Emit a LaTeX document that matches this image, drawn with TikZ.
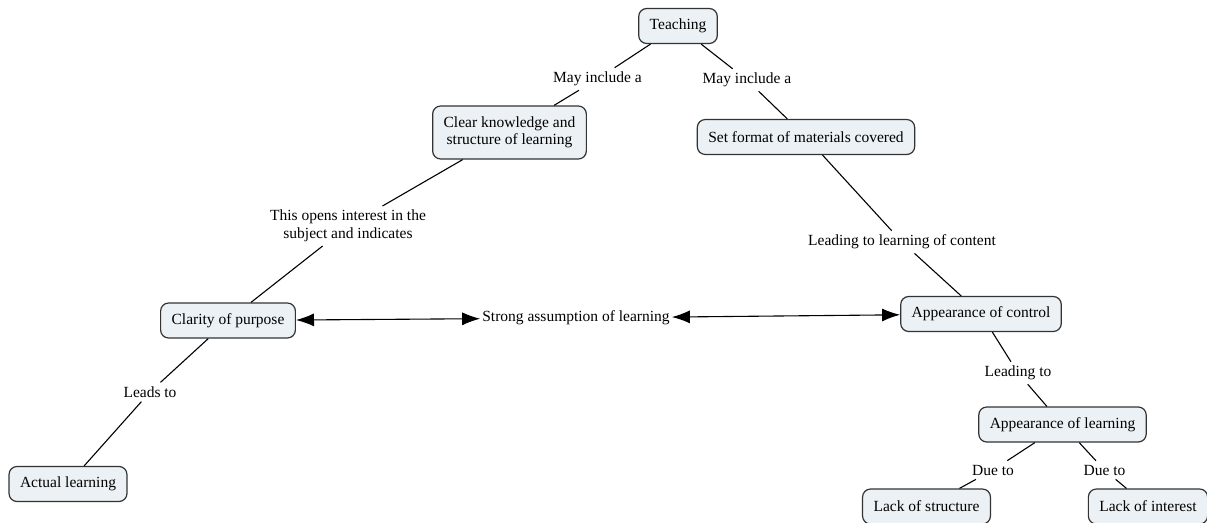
\documentclass[tikz,border=0pt]{standalone}
\usepackage{fontspec}
\setmainfont{Liberation Serif}
\usetikzlibrary{arrows.meta}
\definecolor{boxfill}{HTML}{EBF1F4}
\definecolor{boxline}{HTML}{333333}
\begin{document}
\begin{tikzpicture}[x=1pt,y=-1pt,
  concept/.style={draw=boxline, line width=1.2pt, fill=boxfill, rounded corners=8pt,
    minimum height=35pt, inner xsep=11pt, inner ysep=4pt, align=center,
    font=\fontsize{15.5}{17.5}\selectfont},
  lbl/.style={inner sep=4pt, align=center, font=\fontsize{15.5}{17.5}\selectfont},
  link/.style={line width=1.1pt, draw=black},
  biarrow/.style={link, {Latex[length=18pt,width=13pt]}-{Latex[length=18pt,width=13pt]}}]
\useasboundingbox (0,0) rectangle (1207,522);
% concepts
\node[concept] (teach) at (678,26) {Teaching};
\node[concept, minimum height=53pt] (clear) at (509.5,132.5) {Clear knowledge and\\structure of learning};
\node[concept] (setf) at (806,137) {Set format of materials covered};
\node[concept] (clar) at (228,320.5) {Clarity of purpose};
\node[lbl, inner xsep=2pt] (strong) at (576,318) {Strong assumption of learning};
\node[concept] (actrl) at (981,314) {Appearance of control};
\node[concept] (alearn) at (1062.5,424.5) {Appearance of learning};
\node[concept] (actual) at (68,484) {Actual learning};
\node[concept] (lstruct) at (926.5,506.5) {Lack of structure};
\node[concept] (lint) at (1148,506.5) {Lack of interest};
% link labels
\node[lbl] (l1) at (597.5,79) {May include a};
\node[lbl] (l2) at (747,80) {May include a};
\node[lbl] (l3) at (348,226) {This opens interest in the\\subject and indicates};
\node[lbl] (l4) at (902,242) {Leading to learning of content};
\node[lbl] (l5) at (150,392) {Leads to};
\node[lbl] (l6) at (1018,373) {Leading to};
\node[lbl] (l7) at (993,470) {Due to};
\node[lbl] (l8) at (1104.5,470) {Due to};
% connectors
\draw[link] (teach) -- (l1);
\draw[link] (l1) -- (clear);
\draw[link] (teach) -- (l2);
\draw[link] (l2) -- (setf);
\draw[link] (clear) -- (l3);
\draw[link] (l3) -- (clar);
\draw[link] (setf) -- (l4);
\draw[link] (l4) -- (actrl);
\draw[link] (clar) -- (l5);
\draw[link] (l5) -- (actual);
\draw[link] (actrl) -- (l6);
\draw[link] (l6) -- (alearn);
\draw[link] (alearn) -- (l7);
\draw[link] (l7) -- (lstruct);
\draw[link] (alearn) -- (l8);
\draw[link] (l8) -- (lint);
\draw[biarrow] (clar) -- (strong);
\draw[biarrow] (strong) -- (actrl);
\end{tikzpicture}
\end{document}
